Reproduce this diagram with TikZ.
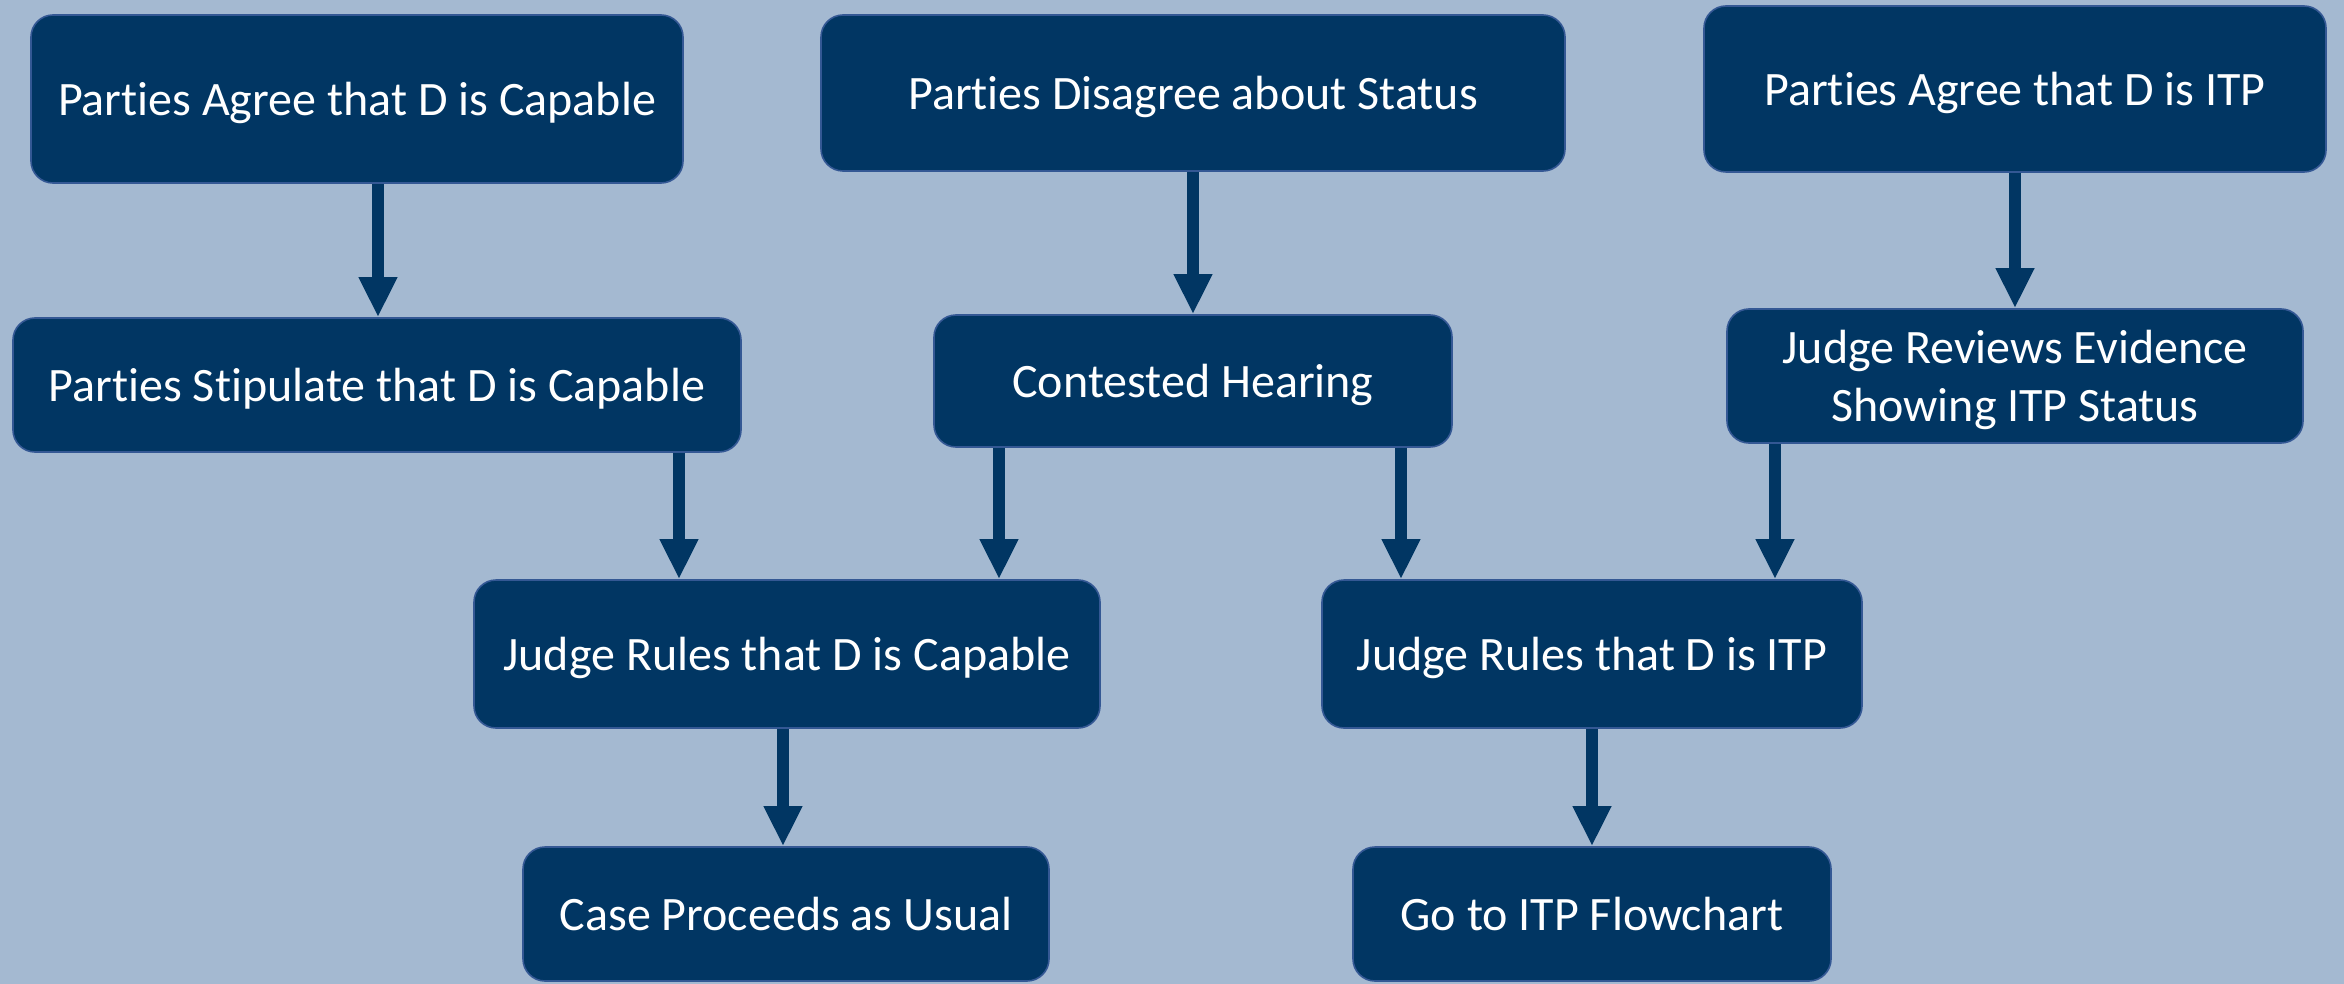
\documentclass[tikz,border=0pt]{standalone}
\usepackage{fontspec}
\setmainfont{Carlito}[Ligatures=NoCommon]
\usetikzlibrary{arrows.meta}
\definecolor{bgblue}{RGB}{164,185,209}
\definecolor{boxblue}{RGB}{1,54,99}
\definecolor{edgeblue}{RGB}{52,88,148}
\tikzset{
  stepbox/.style={draw=edgeblue, line width=0.8pt, fill=boxblue, rounded corners=11pt,
    text=white, align=center, inner sep=0pt, text depth=0pt,
    font=\fontsize{24}{29}\selectfont},
  arr/.style={draw=boxblue, line width=6pt,
    -{Triangle[width=18pt,length=20pt]}}
}
\begin{document}
\begin{tikzpicture}[x=0.5pt,y=-0.5pt]
\fill[bgblue] (0,0) rectangle (2344,984);
\useasboundingbox (0,0) rectangle (2344,984);
% top row
\node[stepbox, minimum width=326pt, minimum height=84pt] (b1) at (357,99) {Parties Agree that D is Capable};
\node[stepbox, minimum width=372pt, minimum height=78pt] (b2) at (1193,93) {Parties Disagree about Status};
\node[stepbox, minimum width=311pt, minimum height=83pt] (b3) at (2015,89) {Parties Agree that D is ITP};
% second row
\node[stepbox, minimum width=364pt, minimum height=67pt] (b4) at (377,385) {Parties Stipulate that D is Capable};
\node[stepbox, minimum width=259pt, minimum height=66pt] (b5) at (1193,381) {Contested Hearing};
\node[stepbox, minimum width=288pt, minimum height=67pt] (b6) at (2015,376) {Judge Reviews Evidence\\Showing ITP Status};
% rulings
\node[stepbox, minimum width=313pt, minimum height=74pt] (b7) at (787,654) {Judge Rules that D is Capable};
\node[stepbox, minimum width=270pt, minimum height=74pt] (b8) at (1592,654) {Judge Rules that D is ITP};
% outcomes
\node[stepbox, minimum width=263pt, minimum height=67pt] (b9) at (786,914) {Case Proceeds as Usual};
\node[stepbox, minimum width=239pt, minimum height=67pt] (b10) at (1592,914) {Go to ITP Flowchart};
% connectors
\draw[arr] (b1.south -| 378,0) -- (b4.north -| 378,0);
\draw[arr] (b2.south) -- (b5.north);
\draw[arr] (b3.south) -- (b6.north);
\draw[arr] (b4.south -| 679,0) -- (b7.north -| 679,0);
\draw[arr] (b5.south -| 999,0) -- (b7.north -| 999,0);
\draw[arr] (b5.south -| 1401,0) -- (b8.north -| 1401,0);
\draw[arr] (b6.south -| 1775,0) -- (b8.north -| 1775,0);
\draw[arr] (b7.south -| 783,0) -- (b9.north -| 783,0);
\draw[arr] (b8.south) -- (b10.north);
\end{tikzpicture}
\end{document}
